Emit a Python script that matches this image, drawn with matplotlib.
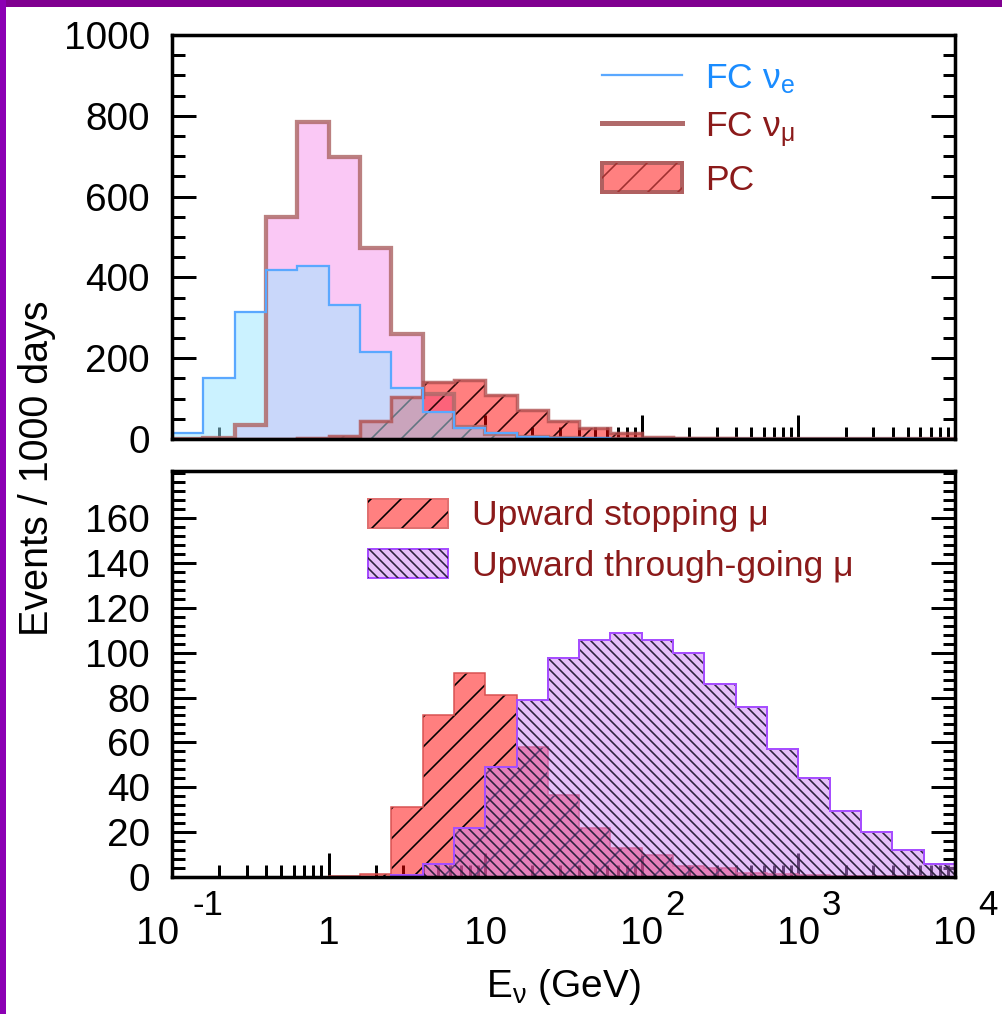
import numpy as np
import matplotlib
matplotlib.use('Agg')
import matplotlib.pyplot as plt
import matplotlib.transforms as mtransforms
from matplotlib.lines import Line2D
from matplotlib.patches import Patch, Rectangle
from matplotlib.ticker import MultipleLocator, LogLocator, NullFormatter

plt.rcParams['font.family'] = ['Liberation Sans', 'DejaVu Sans']
plt.rcParams['mathtext.fontset'] = 'custom'
plt.rcParams['mathtext.rm'] = 'Liberation Sans'
plt.rcParams['mathtext.it'] = 'Liberation Sans:italic'
plt.rcParams['mathtext.bf'] = 'Liberation Sans:bold'
plt.rcParams['mathtext.default'] = 'regular'
plt.rcParams['hatch.linewidth'] = 0.65

# bins in log10(E/GeV), 0.2 wide, from 10^-1 to 10^4
log_edges = np.linspace(-1, 4, 26)
edges = 10 ** log_edges

# top panel: fully / partially contained events
fc_nue = [15, 150, 315, 418, 428, 332, 216, 127, 66, 27, 15, 5, 3, 2, 1,
          1, 0.5, 0.5, 0, 0, 0, 0, 0, 0, 0]
fc_numu = [1, 2, 35, 550, 785, 699, 473, 260, 112, 30, 12, 5, 2, 1, 0.5,
           0.5, 0, 0, 0, 0, 0, 0, 0, 0, 0]
pc = [0, 0, 0, 0, 3, 8, 45, 105, 142, 146, 110, 72, 45, 27, 15,
      6, 3, 2, 1, 0.5, 0.3, 0, 0, 0, 0]

# bottom panel: upward muons
up_stop = [0, 0, 0, 0, 0, 0.5, 1.5, 31, 72, 91, 81, 58, 36.5, 22, 13,
           10, 5, 4, 2, 1.5, 1, 0.5, 0.5, 0.3, 0.2]
up_thru = [0, 0, 0, 0, 0, 0, 0, 1, 6, 22, 49, 79, 97.5, 105.6, 109,
           105.6, 100, 86, 75.6, 57, 44, 29.5, 20, 12, 6]

xtick_vals = [0.1, 1, 10, 100, 1000, 10000]
xtick_base = ['10', '1', '10', '10', '10', '10']
xtick_exp = ['-1', '', '', '2', '3', '4']

W, H = 1002, 1014
DPI = 180
fig = plt.figure(figsize=(W / DPI, H / DPI), dpi=DPI)


def axes_px(l, t, r, b):
    return fig.add_axes([l / W, 1 - b / H, (r - l) / W, (b - t) / H])


ax1 = axes_px(172, 35, 955, 439)
ax2 = axes_px(172, 471, 955, 877)

darkred = '#8b1a1a'
tsize = 15.5
lsize = 14.2
hatch_fwd = '//'          # ~30 px spacing at this dpi
hatch_back = '\\' * 6     # ~10 px spacing
thru_hatch = '#2e2240'

# ---- top panel
ax1.stairs(fc_numu, edges, fill=True, facecolor='#fac8f5', edgecolor='none', zorder=1)
ax1.stairs(pc, edges, fill=True, facecolor=(1, 0, 0, 0.5), edgecolor='none', zorder=2)
ax1.stairs(pc, edges, fill=True, facecolor='none', edgecolor='#2a0505', hatch=hatch_fwd, lw=0, zorder=2.1)
ax1.stairs(fc_nue, edges, fill=True, facecolor=(0.6, 0.9, 1.0, 0.5), edgecolor='none', zorder=3)
ax1.stairs(fc_numu, edges, color='#b06a6a', lw=1.7, alpha=0.85, zorder=4)
ax1.stairs(pc, edges, color='#b05050', lw=1.4, alpha=0.8, zorder=4)
ax1.stairs(fc_nue, edges, color='#5aa8ff', lw=0.9, zorder=5)

ax1.set_ylim(0, 1000)
ax1.yaxis.set_major_locator(MultipleLocator(200))
ax1.yaxis.set_minor_locator(MultipleLocator(50))

h_nue = Line2D([], [], color='#5aa8ff', lw=0.9)
h_numu = Line2D([], [], color='#b06a6a', lw=2.0)
h_pc = (Patch(facecolor='#ff8080', edgecolor='#b06060', lw=1.6),
        Patch(facecolor='none', edgecolor='#a03030', hatch=hatch_fwd, lw=0))
ax1.legend([h_nue, h_numu, h_pc], ['FC ν$_e$', 'FC ν$_μ$', 'PC'],
           loc='upper left', bbox_to_anchor=(0.549, 0.935), frameon=False,
           fontsize=lsize, handlelength=2.25, handleheight=0.88,
           handletextpad=0.65, labelspacing=0.39, borderpad=0, borderaxespad=0,
           labelcolor=['#1a8cff', darkred, darkred])

# ---- bottom panel
ax2.stairs(up_stop, edges, fill=True, facecolor=(1, 0, 0, 0.5), edgecolor='none', zorder=1)
ax2.stairs(up_stop, edges, fill=True, facecolor='none', edgecolor='black', hatch=hatch_fwd, lw=0, zorder=1.1)
ax2.stairs(up_stop, edges, color='#d85050', lw=0.6, zorder=1.2)
ax2.stairs(up_thru, edges, fill=True, facecolor=(0.8, 0.5, 0.96, 0.5), edgecolor='none', zorder=2)
ax2.stairs(up_thru, edges, fill=True, facecolor='none', edgecolor=thru_hatch, hatch=hatch_back, lw=0, zorder=2.1)
ax2.stairs(up_thru, edges, color='#a64dff', lw=0.8, zorder=3)

ax2.set_ylim(0, 181)
ax2.set_yticks(np.arange(0, 161, 20))
ax2.yaxis.set_minor_locator(MultipleLocator(4))

h_stop = (Patch(facecolor='#ff8080', edgecolor='#e07070', lw=0.8),
          Patch(facecolor='none', edgecolor='black', hatch=hatch_fwd, lw=0))
h_thru = (Patch(facecolor='#e6bffa', edgecolor='#a64dff', lw=0.8),
          Patch(facecolor='none', edgecolor=thru_hatch, hatch=hatch_back, lw=0))
ax2.legend([h_stop, h_thru], ['Upward stopping μ', 'Upward through-going μ'],
           loc='upper left', bbox_to_anchor=(0.250, 0.932), frameon=False,
           fontsize=lsize, handlelength=2.25, handleheight=0.88,
           handletextpad=0.7, labelspacing=0.48, borderpad=0, borderaxespad=0,
           labelcolor=darkred)

# ---- common axis styling
for ax in (ax1, ax2):
    ax.set_xscale('log')
    ax.set_xlim(0.1, 1e4)
    ax.xaxis.set_major_locator(LogLocator(base=10, numticks=20))
    ax.xaxis.set_minor_locator(LogLocator(base=10, subs=np.arange(2, 10), numticks=20))
    ax.xaxis.set_minor_formatter(NullFormatter())
    ax.set_axisbelow(True)
    for s in ax.spines.values():
        s.set_linewidth(1.4)
        s.set_zorder(6)
    ax.tick_params(which='both', direction='in', width=1.2, top=False, bottom=True,
                   left=True, right=True, labelbottom=False, labelsize=tsize, pad=8.8)
    ax.tick_params(which='major', length=9.5)
    ax.tick_params(which='minor', length=5)

# x tick labels in ROOT style (raised exponents)
trans = ax2.get_xaxis_transform()
for x, b, e in zip(xtick_vals, xtick_base, xtick_exp):
    dx = -14 if e == '-1' else 0
    tb = mtransforms.offset_copy(trans, fig=fig, x=dx, y=0, units='dots')
    ax2.text(x, -0.165, b, transform=tb, ha='center', va='baseline',
             fontsize=tsize, clip_on=False)
    if e:
        te = mtransforms.offset_copy(trans, fig=fig, x=(20 if e == '-1' else 23), y=0, units='dots')
        ax2.text(x, -0.094, e, transform=te, ha='left', va='baseline',
                 fontsize=tsize * 0.9, clip_on=False)

fig.text(563 / W, 1 - 997 / H, 'E$_ν$ (GeV)', ha='center', va='baseline', fontsize=tsize)
fig.text(37 / W, 1 - 468 / H, 'Events / 1000 days', rotation=90,
         ha='center', va='center', fontsize=15.8)

# purple frame on top and left
fig.add_artist(Rectangle((0, 1 - 7 / H), 1, 7 / H, transform=fig.transFigure,
                         facecolor='#800090', edgecolor='none', zorder=10))
fig.add_artist(Rectangle((0, 0), 6 / W, 1, transform=fig.transFigure,
                         facecolor='#8c00b4', edgecolor='none', zorder=10))

fig.savefig('out.png', dpi=DPI)
